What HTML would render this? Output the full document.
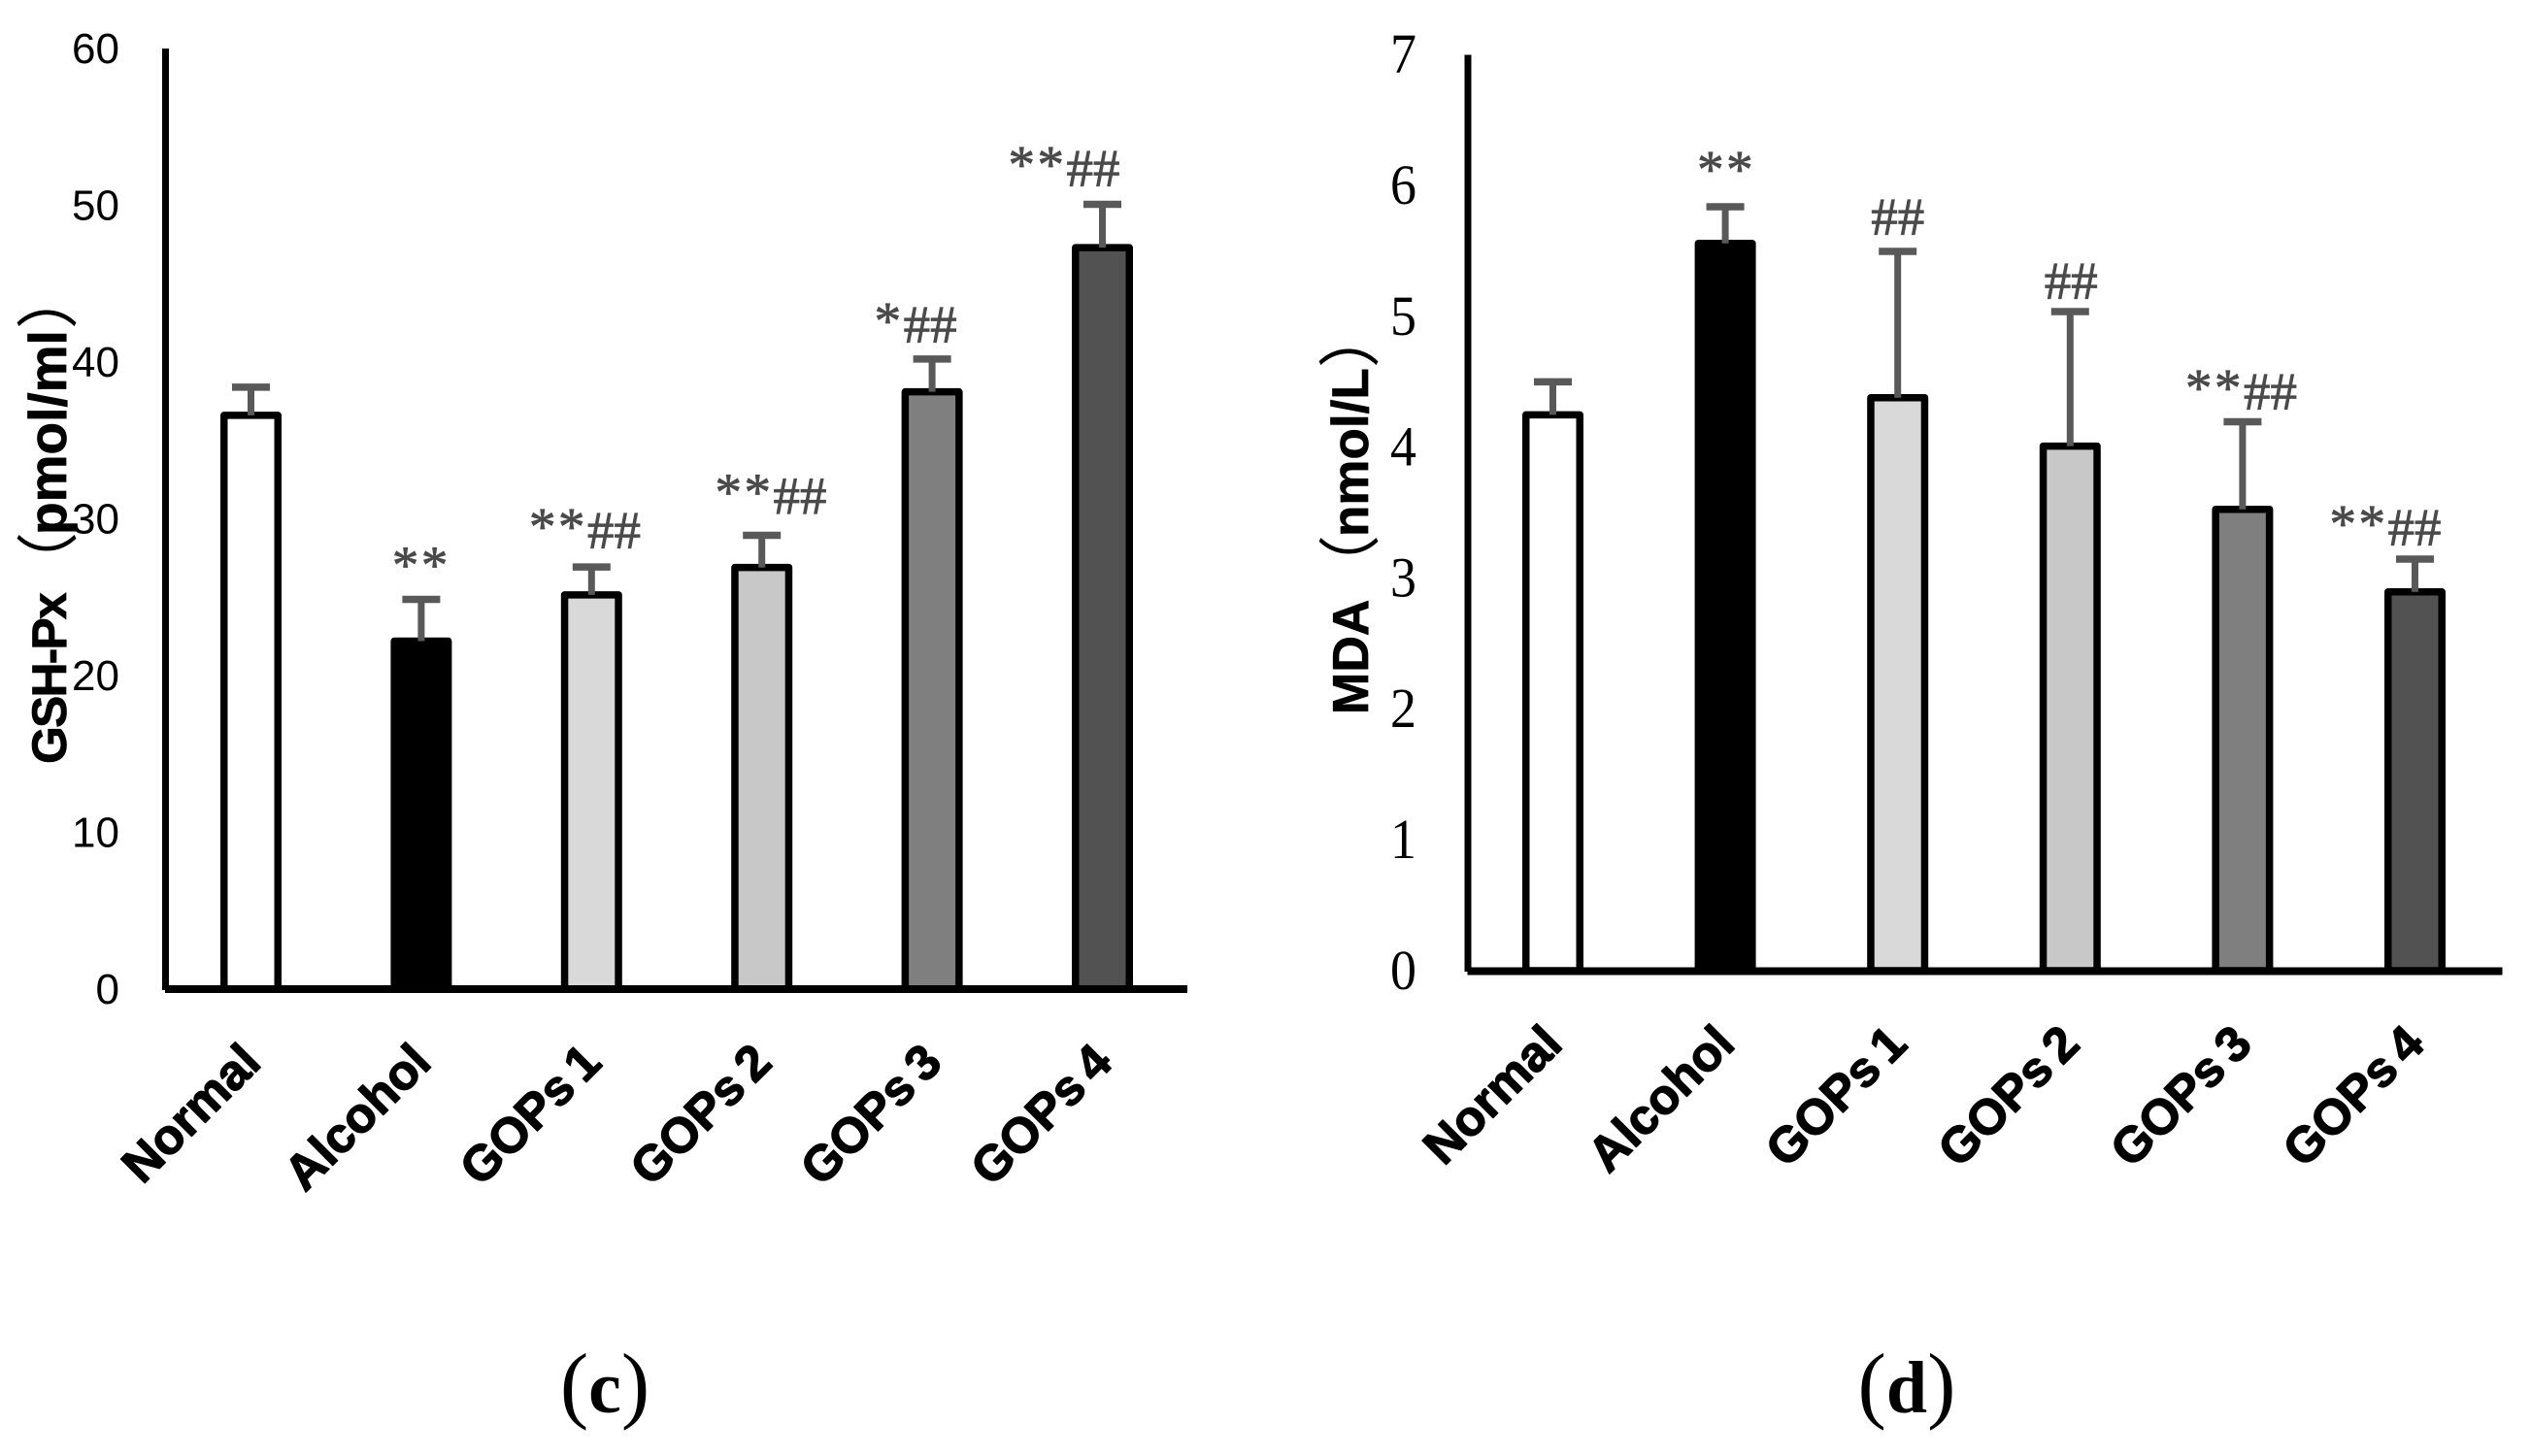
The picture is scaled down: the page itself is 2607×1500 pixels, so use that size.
<!DOCTYPE html>
<html lang="en">
<head>
<meta charset="utf-8">
<title>GSH-Px and MDA bar charts</title>
<style>
html,body{margin:0;padding:0;background:#fff;width:2607px;height:1500px;overflow:hidden}
svg{display:block}
text{font-family:"Liberation Sans","Noto Sans CJK SC",sans-serif}
.serif{font-family:"Liberation Serif","Noto Serif CJK SC",serif}
</style>
</head>
<body>
<svg id="figure" width="2607" height="1500" viewBox="0 0 2607 1500" xmlns="http://www.w3.org/2000/svg"></svg>
<script>
// Shared data
const categories = ['Normal', 'Alcohol', 'GOPs 1', 'GOPs 2', 'GOPs 3', 'GOPs 4'];
const barFills = ['#ffffff', '#000000', '#d9d9d9', '#c8c8c8', '#7f7f7f', '#525252'];

// Panel (c) data
const gshTicks = [0, 10, 20, 30, 40, 50, 60];
const gshValues = [36.6, 22.2, 25.15, 26.9, 38.1, 47.3];
const gshErrors = [1.8, 2.66, 1.78, 2.05, 2.09, 2.76];
const gshMarks = ['', '**', '**##', '**##', '*##', '**##'];

// Panel (d) data
const mdaTicks = [0, 1, 2, 3, 4, 5, 6, 7];
const mdaValues = [4.248, 5.558, 4.379, 4.009, 3.526, 2.895];
const mdaErrors = [0.252, 0.28, 1.118, 1.028, 0.669, 0.25];
const mdaMarks = ['', '**', '##', '##', '**##', '**##'];

// Hand placement of the significance marks, relative to each error-bar top
const gshMarkShiftX = [0, 0, -6.8, 9.3, -17, -39.5];
const gshMarkShiftY = [0, 13, 19, 22, 17, 18.5];
const mdaMarkShiftX = [0, 1, 0, 1, -1.4, -30.5];
const mdaMarkShiftY = [0, 16, 17, 13, 12.5, 14];

const NS = 'http://www.w3.org/2000/svg';
const figure = document.getElementById('figure');

function make(parent, tag, attrs, txt) {
  const el = document.createElementNS(NS, tag);
  for (const k in attrs) el.setAttribute(k, attrs[k]);
  if (txt !== undefined) el.textContent = txt;
  parent.appendChild(el);
  return el;
}

function drawPanel(p) {
  const yScale = v => p.yZero - v * p.yUnit;
  const xScale = i => p.xStart + (i + 0.5) * p.barStep + p.barShift;

  const g = make(figure, 'g', {});
  
  

  // y axis
  const yAxis = make(g, 'rect', {x: p.xStart - 3, y: yScale(p.yTop), width: 7, height: p.yZero - yScale(p.yTop) + 1, fill: '#000', 'shape-rendering': 'crispEdges'});
  
  

  // y ticks
  p.ticks.forEach(t => {
    const lab = make(g, 'text', {
      transform: 'translate(' + p.tickX + ',' + (yScale(t) + p.tickDy) + ') scale(' + p.tickScaleX + ',1)',
      'text-anchor': 'end', 'font-size': p.tickSize, fill: '#000'
    }, String(t));
    if (p.tickSerif) lab.setAttribute('class', 'serif');
    
    
  });

  // y title
  const titleEl = make(g, 'text', {
    transform: 'translate(' + p.titleX + ',0) rotate(-90)',
    fill: '#000'
  });
  
  
  p.titleParts.forEach(part => {
    const ts = make(titleEl, 'tspan', {
      x: part.x, 'font-size': part.size,
      'font-weight': part.bold ? 'bold' : 'normal'
    }, part.text);
    if (part.bold) {
      ts.setAttribute('stroke', '#000');
      ts.setAttribute('stroke-width', '0.7');
    }
    if (part.spacing) ts.setAttribute('letter-spacing', part.spacing);
    if (part.dy) ts.setAttribute('dy', part.dy);
  });

  // bars, error bars, significance marks, category labels
  categories.forEach((c, i) => {
    const cx = xScale(i);
    const top = yScale(p.values[i]);
    const errTop = yScale(p.values[i] + p.errors[i]);

    const bar = make(g, 'rect', {
      x: cx - p.barW / 2, y: top, width: p.barW, height: p.yZero - top,
      fill: barFills[i], stroke: '#000', 'stroke-width': p.barStroke, 'stroke-linejoin': 'round'
    });
    
    

    const stem = make(g, 'line', {x1: cx, x2: cx, y1: top, y2: errTop, stroke: '#595959', 'stroke-width': 7});
    
    

    const cap = make(g, 'line', {x1: cx - p.capW / 2, x2: cx + p.capW / 2, y1: errTop, y2: errTop, stroke: '#595959', 'stroke-width': 7.5});
    
    

    if (p.marks[i]) {
      const mark = make(g, 'text', {
        class: 'serif', x: cx + p.markShiftX[i], y: errTop - p.markShiftY[i],
        'text-anchor': 'middle', 'font-size': 55, fill: '#4a4a4a',
        stroke: '#4a4a4a', 'stroke-width': 0.8
      });
      
      
      const stars = p.marks[i].replace(/#/g, '');
      const hashes = p.marks[i].replace(/\*/g, '');
      if (stars) make(mark, 'tspan', {dy: -4, 'letter-spacing': 2.5}, stars);
      if (hashes) make(mark, 'tspan', {dy: stars ? 4 : 0}, hashes);
    }

    const lx = cx + p.labelDx;
    const ly = p.labelY;
    const lab = make(g, 'text', {
      transform: 'translate(' + lx + ',' + ly + ') rotate(-45)',
      'text-anchor': 'end', 'font-size': 51, 'font-weight': 'bold', fill: '#000',
      stroke: '#000', 'stroke-width': 1.3, 'stroke-linejoin': 'round', 'word-spacing': -5
    }, c);
    
    
  });

  // x axis drawn over the bar bases
  const xAxis = make(g, 'rect', {x: p.xStart, y: p.yZero - p.axisUp, width: p.axisLen, height: 8, fill: '#000', 'shape-rendering': 'crispEdges'});
  
  

  // caption
  const cap = make(g, 'text', {class: 'serif', x: p.capX, y: 1455, 'text-anchor': 'middle', fill: '#000'});
  
  
  make(cap, 'tspan', {'font-size': 88}, '(');
  make(cap, 'tspan', {'font-size': 76, 'font-weight': 'bold'}, p.caption);
  make(cap, 'tspan', {'font-size': 88}, ')');
}

drawPanel({
  name: 'gsh-chart', ticks: gshTicks, values: gshValues, errors: gshErrors, marks: gshMarks,
  markShiftX: gshMarkShiftX, markShiftY: gshMarkShiftY,
  yZero: 1019, yUnit: 16.15, yTop: 60, xStart: 170, barStep: 175.4, barShift: 0.8, axisLen: 1053, axisUp: 4,
  barW: 55.5, barStroke: 7.5, capW: 39,
  tickX: 123, tickDy: 15, tickSize: 44, tickSerif: false, tickScaleX: 1,
  titleX: 68,
  titleParts: [
    {text: 'GSH-Px', x: -787, size: 50, bold: true, spacing: -1.9},
    {text: '（', x: -612, size: 64, bold: false, dy: 4.5},
    {text: 'pmol/ml', x: -551, size: 55, bold: true, dy: -4.5},
    {text: '）', x: -339, size: 64, bold: false, dy: 4.5}
  ],
  labelDx: 12.5, labelY: 1097, capX: 623, caption: 'c'
});

drawPanel({
  name: 'mda-chart', ticks: mdaTicks, values: mdaValues, errors: mdaErrors, marks: mdaMarks,
  markShiftX: mdaMarkShiftX, markShiftY: mdaMarkShiftY,
  yZero: 1000, yUnit: 134.8, yTop: 7, xStart: 1511.5, barStep: 177.6, barShift: -0.8, axisLen: 1066, axisUp: 3.5,
  barW: 55.5, barStroke: 7.5, capW: 39,
  tickX: 1459, tickDy: 18.8, tickSize: 58, tickSerif: true, tickScaleX: 0.93,
  titleX: 1409,
  titleParts: [
    {text: 'MDA', x: -736, size: 52, bold: true},
    {text: '（', x: -615, size: 64, bold: false, dy: 4.5},
    {text: 'nmol/L', x: -553, size: 53, bold: true, dy: -4.5},
    {text: '）', x: -379, size: 64, bold: false, dy: 4.5}
  ],
  labelDx: 12, labelY: 1078, capX: 1964, caption: 'd'
});
</script>
</body>
</html>
